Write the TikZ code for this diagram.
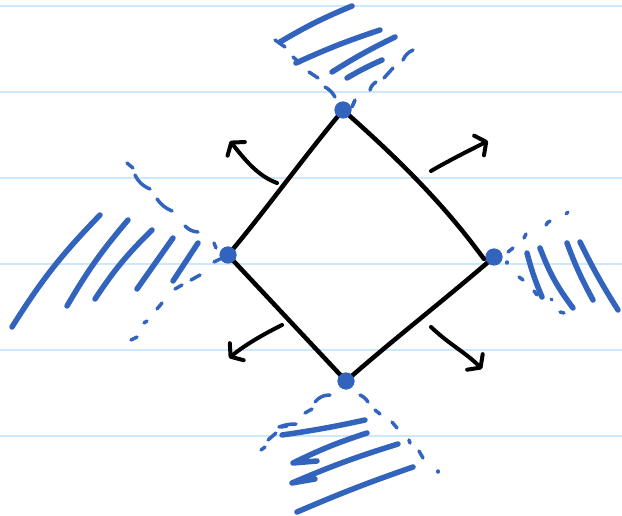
\documentclass[tikz,border=0pt]{standalone}
\usetikzlibrary{arrows.meta}
\definecolor{rulecol}{RGB}{204,232,250}
\definecolor{ink}{RGB}{50,100,190}
\tikzset{
  rule/.style={rulecol, line width=2pt},
  edge/.style={black, line width=4.5pt, line cap=round, line join=round},
  outarrow/.style={black, line width=4pt, line cap=round,
    -{Straight Barb[length=8pt,width=22pt,round]}},
  hatch/.style={ink, line width=5.5pt, line cap=round, line join=round},
  dashmark/.style={ink, line width=3.5pt, line cap=round},
  vdot/.style={circle, fill=ink, inner sep=0pt, minimum size=17pt},
}
\begin{document}
\begin{tikzpicture}[x=1pt,y=-1pt]
\useasboundingbox (0,0) rectangle (622,516);
% notebook rules
\foreach \yy in {6,92,178,264,350,436} \draw[rule] (0,\yy) -- (622,\yy);

% ---------- blue cones ----------
% top cone hatching
\draw[hatch] (280,42) to[bend left=4] (352,6);
\draw[hatch] (296,63) to[bend left=3] (380,30);
\draw[hatch] (332,72) to[bend left=3] (395,37);
\draw[hatch] (347,78) to[bend left=3] (382,60);
% top cone dashed edges
\draw[dashmark] (275,40) -- (285,47);
\draw[dashmark] (293,57) -- (300,63);
\draw[dashmark] (309,72) -- (318,78);
\draw[dashmark] (325,87) to[bend left=15] (335,97);
\draw[dashmark] (413,50) to[bend right=20] (403,60);
\draw[dashmark] (393,68) -- (384,78);
\draw[dashmark] (376,82) to[bend right=20] (370,90);
\draw[dashmark] (355,100) -- (353,105);

% left cone hatching
\draw[hatch] (12,327) to[bend left=6] (100,215);
\draw[hatch] (67,306) to[bend left=5] (128,220);
\draw[hatch] (95,299) to[bend left=6] (152,230);
\draw[hatch] (137,289) -- (173,238);
\draw[hatch] (173,281) -- (198,243);
% left cone dashed edges
\draw[dashmark] (127,163) -- (133,168);
\draw[dashmark] (135,175) to[bend right=20] (150,189);
\draw[dashmark] (157,199) to[bend right=15] (172,211);
\draw[dashmark] (185,226) to[bend right=20] (198,232);
\draw[dashmark] (214,243) -- (216,248);
\draw[dashmark] (200,275) -- (191,280);
\draw[dashmark] (182,285) -- (175,289);
\draw[dashmark] (162,303) -- (157,309);
\draw[dashmark] (147,321) -- (144,323);
\draw[dashmark] (137,337) -- (131,340);

% right cone hatching
\draw[hatch] (527,253) to[bend right=4] (542,297);
\draw[hatch] (540,248) to[bend right=8] (573,308);
\draw[hatch] (567,243) to[bend right=4] (593,300);
\draw[hatch] (580,242) to[bend right=3] (618,310);
% right cone dashed edges
\draw[dashmark] (508,252) -- (513,248);
\draw[dashmark] (524,238) -- (526,234);
\draw[dashmark] (546,225) to[bend left=20] (550,221);
\draw[dashmark] (566,214) -- (568,212);
\draw[dashmark] (519,277) -- (523,280);
\draw[dashmark] (534,291) -- (537,295);
\draw[dashmark] (551,299) -- (552,300);
\draw[dashmark] (560,312) -- (564,313);

% bottom cone hatching (zigzag strokes)
\draw[hatch] (365,420) to[bend left=2] (282,435);
\draw[dashmark] (279,427) to[bend left=10] (296,424);
\draw[hatch] (367,433) to[bend right=4] (293,463) -- (317,461);
\draw[hatch] (398,444) to[bend right=3] (292,483) -- (315,479);
\draw[hatch] (413,467) to[bend right=2] (297,512);
% bottom cone dashed edges
\draw[dashmark] (315,402) to[bend left=25] (330,395);
\draw[dashmark] (305,413) -- (312,409);
\draw[dashmark] (281,427) -- (287,426);
\draw[dashmark] (268,440) -- (276,433);
\draw[dashmark] (261,450) -- (265,447);
\draw[dashmark] (360,395) to[bend left=15] (368,402);
\draw[dashmark] (375,410) -- (380,414);
\draw[dashmark] (392,422) -- (397,428);
\draw[dashmark] (409,440) -- (410,443);
\draw[dashmark] (419,451) -- (423,458);
\draw[dashmark] (438,471) -- (438,472);

% ---------- diamond ----------
\node[vdot] (T) at (343,110) {};
\node[vdot] (R) at (494,257) {};
\node[vdot] (B) at (346,381) {};
\node[vdot] (L) at (228,255) {};
\draw[edge] (T.center) .. controls (300,162) and (262,215) .. (L.center);
\draw[edge] (T.center) .. controls (393,154) and (440,200) .. (478,251) -- (484,259);
\draw[edge] (L.center) -- (B.center);
\draw[edge] (B.center) .. controls (395,338) and (448,297) .. (R.center);
% dots on top of the edges
\node[vdot] at (T) {};
\node[vdot] at (R) {};
\node[vdot] at (B) {};
\node[vdot] at (L) {};
% small ticks beside the dots
\draw[dashmark] (354,102) -- (352,107);
\draw[dashmark] (214,262) -- (220,259);
\draw[dashmark] (507,263) -- (507,262);

% ---------- outward arrows ----------
\coordinate (a1s) at (277,183); \coordinate (a1e) at (230,141);
\coordinate (a2s) at (431,171); \coordinate (a2e) at (488,141);
\coordinate (a3s) at (282,325); \coordinate (a3e) at (229,358);
\coordinate (a4s) at (431,327); \coordinate (a4e) at (482,369);
\draw[outarrow] (a1s) .. controls (258,176) and (245,160) .. (a1e);
\draw[outarrow] (a2s) .. controls (450,160) and (470,150) .. (a2e);
\draw[outarrow] (a3s) .. controls (262,335) and (245,345) .. (a3e);
\draw[outarrow] (a4s) .. controls (450,345) and (465,352) .. (a4e);
\end{tikzpicture}
\end{document}
